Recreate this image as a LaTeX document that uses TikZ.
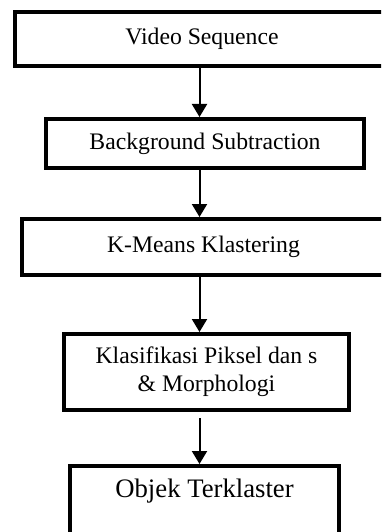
\documentclass[tikz,border=0pt]{standalone}
\usepackage{fontspec}
\setmainfont{Liberation Serif}
\usetikzlibrary{arrows.meta}
\begin{document}
\begin{tikzpicture}[x=1pt,y=-1pt,
  stage/.style={draw=black, line width=4pt, fill=white, align=center,
    inner sep=0pt, font=\fontsize{23.7}{28}\selectfont},
  flow/.style={line width=2pt, -{Triangle[length=13pt,width=15pt]}}]
\useasboundingbox (0,0) rectangle (381,532);
\clip (0,0) rectangle (381,532);

% processing stages, top to bottom
\node[stage, minimum width=374pt, minimum height=54pt] (video) at (202,39) {Video Sequence};
\node[stage, minimum width=318pt, minimum height=49pt] (bgsub) at (205,143.5) {Background Subtraction};
\node[stage, minimum width=363pt, minimum height=56pt] (kmeans) at (203.5,247) {K-Means Klastering};
\node[stage, minimum width=285pt, minimum height=76pt] (klas) at (206.5,372) {Klasifikasi Piksel dan s\\ \& Morphologi};
\node[stage, minimum width=269pt, minimum height=85pt, font=\fontsize{26.7}{31}\selectfont] (objek) at (204.5,508.5) {Objek Terklaster\\ \strut};

% vertical flow axis
\coordinate (ax) at (199.5,0);
\draw[flow] (video.south -| ax) -- (bgsub.north -| ax);
\draw[flow] (bgsub.south -| ax) -- (kmeans.north -| ax);
\draw[flow] (kmeans.south -| ax) -- (klas.north -| ax);
\draw[flow, shorten <=6pt] (klas.south -| ax) -- (objek.north -| ax);
\end{tikzpicture}
\end{document}
